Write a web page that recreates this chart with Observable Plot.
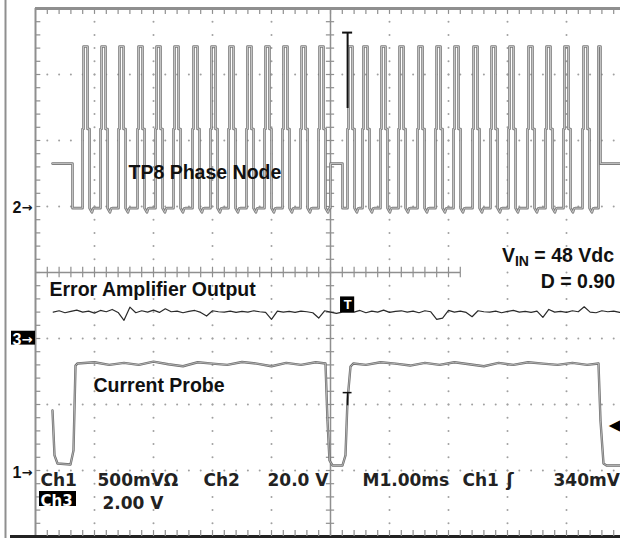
<!DOCTYPE html>
<html><head><meta charset="utf-8">
<script src="https://cdn.jsdelivr.net/npm/d3@7"></script>
<script src="https://cdn.jsdelivr.net/npm/@observablehq/plot@0.6"></script>
<style>
html,body{margin:0;padding:0;background:#fff;overflow:hidden}
#chart svg{display:block}
</style></head><body><div id="chart"></div>
<script>
// ---------------- data (time in ms, voltages in volts) ----------------
const channelNames = ["1", "2", "3"];
const channelGroundDiv = [1, 5, 3];        // ground markers, divisions from bottom
const channelVoltsPerDiv = [0.5, 20, 2];   // Ch1 500mV, Ch2 20.0V, Ch3 2.00V
const triggerTime = 5.29;                  // ms
const triggerLevel = 0.34;                 // V on Ch1

// Ch2 – TP8 phase node: rising-edge times of each pulse
const ch2Burst1Rise = [0.797, 1.102, 1.407, 1.729, 2.034, 2.339, 2.661, 2.966, 3.271, 3.576, 3.881, 4.186, 4.492, 4.797];
const ch2Burst2Rise = [5.288, 5.542, 5.847, 6.153, 6.475, 6.780, 7.085, 7.407, 7.712, 8.017, 8.339, 8.644, 8.949, 9.271];
const ch2LastRise = 9.542;
const ch2IdleStart = [0.288, 5.0, 9.576];
const ch2IdleEnd = [0.627, 5.203, 10.0];
const ch2IdleV = 13;
const ch2PulseDt = [0, 0, 0.017, 0.017, 0.085, 0.085, 0.119, 0.119, 0.16, 0.18, 0.2];
const ch2PulseV = [-0.5, 23.5, 23.5, 48.5, 48.5, 23.5, 23.5, -0.5, -1.8, -0.6, -0.5];
const ch2TriggerSpikeV = [29.7, 52.7];

// Ch3 – error amplifier output, sampled every 0.1 ms from 0.3 ms
const ch3Start = 0.3, ch3Step = 0.1;
const ch3V = [0.80, 0.84, 0.78, 0.82, 0.86, 0.80, 0.83, 0.77, 0.85, 0.81,
  0.88, 0.79, 0.55, 0.95, 0.78, 0.84, 0.80, 0.86, 0.79, 0.90,
  0.81, 0.83, 0.78, 0.82, 0.85, 0.79, 0.68, 0.84, 0.81, 0.80,
  0.83, 0.79, 0.82, 0.80, 0.84, 0.81, 0.79, 0.58, 0.83, 0.80,
  0.82, 0.79, 0.83, 0.81, 0.78, 0.62, 0.84, 0.80, 0.76, 0.80,
  0.80, 0.80, 0.85, 0.78, 0.83, 0.80, 0.86, 0.79, 0.82, 0.84,
  0.80, 0.83, 0.78, 0.84, 0.81, 0.58, 0.62, 0.85, 0.80, 0.83,
  0.79, 0.66, 0.84, 0.81, 0.80, 0.83, 0.78, 0.82, 0.85, 0.80,
  0.82, 0.79, 0.83, 0.64, 0.88, 0.80, 0.82, 0.79, 0.84, 0.81,
  0.96, 0.80, 0.78, 0.84, 0.81, 0.83, 0.79, 0.82];

// Ch1 – current probe
const ch1T = [0.288, 0.322, 0.373, 0.593, 0.644, 0.678, 0.712,
  1.0, 1.25, 1.5, 1.75, 2.0, 2.25, 2.5, 2.75, 3.0, 3.25, 3.5, 3.75, 4.0, 4.25, 4.5, 4.75,
  4.915, 4.949, 4.983, 5.034, 5.203, 5.254, 5.288, 5.339, 5.39,
  5.6, 5.85, 6.1, 6.35, 6.6, 6.85, 7.1, 7.35, 7.6, 7.85, 8.1, 8.35, 8.6, 8.85, 9.1, 9.35,
  9.542, 9.576, 9.627, 9.678, 10.0];
const ch1V = [0.455, 0.114, 0.053, 0.045, 0.152, 0.795, 0.811,
  0.82, 0.80, 0.815, 0.80, 0.825, 0.805, 0.79, 0.82, 0.81, 0.80, 0.822, 0.81, 0.79, 0.815, 0.80, 0.82,
  0.811, 0.379, 0.076, 0.038, 0.038, 0.114, 0.53, 0.788, 0.811,
  0.80, 0.82, 0.81, 0.795, 0.815, 0.80, 0.82, 0.805, 0.79, 0.815, 0.80, 0.82, 0.81, 0.80, 0.815, 0.80,
  0.811, 0.379, 0.053, 0.038, 0.038];
const ch1TMarkV = 0.59;

// texts
const traceLabels = ["TP8 Phase Node", "Error Amplifier Output", "Current Probe"];
const readoutRow1 = ["Ch1", "500mVΩ", "Ch2", "20.0 V", "M1.00ms", "Ch1", "ʃ", "340mV"];
const readoutRow2 = ["Ch3", "2.00 V"];

// ---------------- helpers ----------------
const div = (ch, v) => channelGroundDiv[ch] + v / channelVoltsPerDiv[ch];
const px2t = px => (px - 35) / 59;
const py2d = py => (536 - py) / 66;

// build Ch2 trace
const ch2Pts = [];
const addIdle = k => { ch2Pts.push({t: ch2IdleStart[k], v: ch2IdleV}, {t: ch2IdleEnd[k], v: ch2IdleV}); };
const addPulses = rises => rises.forEach(r => ch2PulseDt.forEach((dt, j) => ch2Pts.push({t: r + dt, v: ch2PulseV[j]})));
addIdle(0); ch2Pts.push({t: ch2IdleEnd[0], v: -0.5});
addPulses(ch2Burst1Rise);
addIdle(1); ch2Pts.push({t: ch2IdleEnd[1], v: -0.5});
addPulses(ch2Burst2Rise);
ch2Pts.push({t: ch2LastRise, v: -0.5}, {t: ch2LastRise, v: 48.5}, {t: ch2IdleStart[2], v: 48.5});
addIdle(2);
const ch2Data = ch2Pts.map(p => ({t: p.t, d: div(1, p.v)}));
const ch3Data = ch3V.map((v, i) => ({t: ch3Start + i * ch3Step, d: div(2, v)}));
const ch1Data = ch1T.map((t, i) => ({t, d: div(0, ch1V[i])}));

// graticule
const majX = [1, 2, 3, 4, 6, 7, 8, 9];
const majY = [1, 2, 3, 5, 6, 7];
const minX = d3.range(1, 50).map(i => i * 0.2);
const minY = d3.range(1, 40).map(i => i * 0.2);
const gridDots = [];
majX.forEach(x => minY.forEach(y => gridDots.push({x, y})));
majY.forEach(y => minX.forEach(x => gridDots.push({x, y})));

const GRAY = "#8f8f8f";
const labelFont = "Liberation Sans, Arial, sans-serif";
const scopeFont = "DejaVu Sans, sans-serif";

const row1Px = [40, 97, 203, 267, 362, 462, 506, 553];

const plot = Plot.plot({
  width: 620, height: 538,
  x: {domain: [0, 10], range: [35, 625], axis: null},
  y: {domain: [0, 8], range: [536, 8], axis: null},
  style: {background: "#fff", overflow: "hidden"},
  marks: [
    Plot.dot(gridDots, {x: "x", y: "y", r: 1, fill: "#a0a0a0", stroke: null}),
    // borders
    Plot.ruleX([0], {x: () => px2t(5), y1: py2d(0), y2: py2d(538), stroke: GRAY, strokeWidth: 2}),
    Plot.ruleX([0], {x: () => 0, y1: 0, y2: 8, stroke: GRAY, strokeWidth: 2}),
    Plot.ruleY([0], {y: () => 8, x1: 0, x2: 10, stroke: GRAY, strokeWidth: 3}),
    Plot.ruleY([0], {y: () => 0, x1: px2t(10), x2: 10, stroke: "#222", strokeWidth: 3}),
    // center cross
    Plot.ruleX([0], {x: () => 5, y1: 0, y2: 8, stroke: GRAY, strokeWidth: 1.5}),
    Plot.ruleY([0], {y: () => 4, x1: 0, x2: px2t(460), stroke: GRAY, strokeWidth: 1.5}),
    Plot.ruleY(minY, {y: d => d, x1: 5 - 0.07, x2: 5 + 0.07, stroke: GRAY, strokeWidth: 1.2}),
    Plot.ruleX(minX.filter(t => t <= px2t(460)), {x: d => d, y1: 4 - 0.08, y2: 4 + 0.08, stroke: GRAY, strokeWidth: 1.2}),
    // border ticks
    Plot.ruleX(minX, {x: d => d, y1: 8, y2: 7.91, stroke: GRAY, strokeWidth: 1.2}),
    Plot.ruleX(minX, {x: d => d, y1: 0, y2: 0.09, stroke: GRAY, strokeWidth: 1.2}),
    Plot.ruleY(minY, {y: d => d, x1: 0, x2: 0.09, stroke: GRAY, strokeWidth: 1.2}),
    // traces
    Plot.line(ch2Data, {x: "t", y: "d", stroke: "#7a7a7a", strokeWidth: 2.6}),
    Plot.line(ch2Data, {x: "t", y: "d", stroke: "#d6d6d6", strokeWidth: 0.8}),
    Plot.line(ch1Data, {x: "t", y: "d", stroke: "#6e6e6e", strokeWidth: 2.4}),
    Plot.line(ch1Data, {x: "t", y: "d", stroke: "#cfcfcf", strokeWidth: 0.7}),
    Plot.line(ch3Data, {x: "t", y: "d", stroke: "#2a2a2a", strokeWidth: 1.2}),
    // trigger markers
    Plot.ruleX([0], {x: () => triggerTime, y1: div(1, ch2TriggerSpikeV[0]), y2: div(1, ch2TriggerSpikeV[1]), stroke: "#111", strokeWidth: 2}),
    Plot.ruleY([0], {y: () => div(1, ch2TriggerSpikeV[1]), x1: triggerTime - 0.085, x2: triggerTime + 0.085, stroke: "#111", strokeWidth: 2}),
    Plot.ruleX([0], {x: () => triggerTime, y1: div(0, ch1TMarkV) - 0.2, y2: div(0, ch1TMarkV), stroke: "#111", strokeWidth: 1.5}),
    Plot.ruleY([0], {y: () => div(0, ch1TMarkV), x1: triggerTime - 0.075, x2: triggerTime + 0.075, stroke: "#111", strokeWidth: 1.5}),
    Plot.rect([0], {x1: () => triggerTime - 0.12, x2: () => triggerTime + 0.12, y1: () => div(2, 0.82) - 0.02, y2: () => div(2, 0.82) + 0.22, fill: "#000"}),
    Plot.text(["T"], {x: () => triggerTime, y: () => div(2, 0.82) + 0.1, fill: "#fff", fontSize: 13, fontWeight: "bold", fontFamily: labelFont}),
    Plot.text(["◀"], {x: () => px2t(614), y: () => div(0, triggerLevel), fill: "#000", fontSize: 15, fontFamily: scopeFont}),
    // channel ground markers
    Plot.rect([2], {x1: () => px2t(11), x2: () => px2t(35), y1: i => channelGroundDiv[i] - 0.1, y2: i => channelGroundDiv[i] + 0.11, fill: "#000"}),
    Plot.text([0, 1, 2], {x: () => px2t(12), y: i => channelGroundDiv[i] - (i === 0 ? 0.04 : 0.02), text: i => channelNames[i], textAnchor: "start", fill: i => i === 2 ? "#fff" : "#111", fontSize: 16, fontWeight: "bold", fontFamily: labelFont}),
    Plot.text([0, 1, 2], {x: () => px2t(21), y: i => channelGroundDiv[i] - (i === 0 ? 0.04 : 0.02), text: () => "→", textAnchor: "start", fill: i => i === 2 ? "#fff" : "#111", fontSize: 13, fontWeight: "bold", fontFamily: scopeFont}),
    // trace labels
    Plot.text(traceLabels, {x: (d, i) => px2t([128, 49, 93][i]), y: (d, i) => py2d([178, 295, 391][i]), text: d => d, textAnchor: "start", lineAnchor: "bottom", fontSize: 19.5, fontWeight: "bold", fontFamily: labelFont, fill: "#111"}),
    // readout
    Plot.text(readoutRow1, {x: (d, i) => px2t(row1Px[i]), y: () => py2d(485), text: d => d, textAnchor: "start", lineAnchor: "bottom", fontSize: 17, fontWeight: "bold", fontFamily: scopeFont, fill: "#222"}),
    Plot.rect([0], {x1: () => px2t(39), x2: () => px2t(76), y1: () => py2d(506), y2: () => py2d(491), fill: "#000"}),
    Plot.text(readoutRow2, {x: (d, i) => px2t([40, 102][i]), y: (d, i) => py2d([505, 508][i]), text: d => d, textAnchor: "start", lineAnchor: "bottom", fontSize: (d, i) => i === 0 ? 15 : 17, fontWeight: "bold", fontFamily: scopeFont, fill: (d, i) => i === 0 ? "#fff" : "#222"})
  ]
});
document.getElementById("chart").appendChild(plot);

// V_IN and duty-cycle annotation with subscript
const svg = d3.select(plot);
const g = svg.append("g").attr("font-family", labelFont).attr("font-weight", "bold").attr("fill", "#111");
const t1 = g.append("text").attr("x", 614).attr("y", 262).attr("text-anchor", "end").attr("font-size", 19.5);
t1.append("tspan").text("V");
t1.append("tspan").attr("font-size", 14).attr("dy", 4).text("IN");
t1.append("tspan").attr("dy", -4).text(" = 48 Vdc");
g.append("text").attr("x", 615).attr("y", 288).attr("text-anchor", "end").attr("font-size", 19.5).text("D = 0.90");
</script>
</body></html>
